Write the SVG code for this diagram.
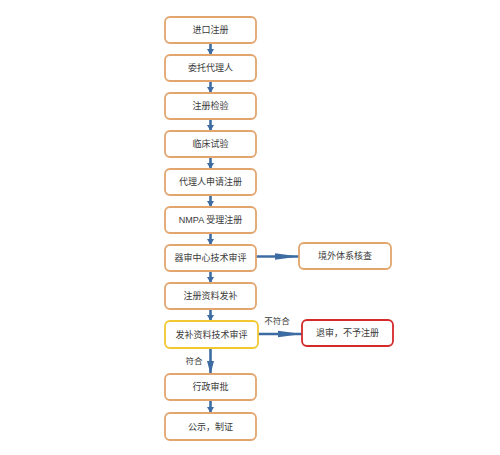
<svg xmlns="http://www.w3.org/2000/svg" width="500" height="455" viewBox="0 0 500 455">
<style>
.box{fill:#ffffff;stroke:#e2a56e;stroke-width:1.8}
.yel{fill:#ffffff;stroke:#f2c830;stroke-width:1.8}
.red{fill:#ffffff;stroke:#d42a2a;stroke-width:1.8}
.t{font-family:"Liberation Sans","Noto Sans CJK SC",sans-serif;font-size:9px;fill:#3a3a3a;text-anchor:middle;dominant-baseline:central}
.lbl{font-family:"Liberation Sans","Noto Sans CJK SC",sans-serif;font-size:8.5px;fill:#3a3a3a;text-anchor:middle;dominant-baseline:central}
.c{stroke:#3d6ca3;stroke-width:2.6;fill:none}
</style>
<defs>
<marker id="ah" markerUnits="userSpaceOnUse" markerWidth="8" markerHeight="8" refX="6" refY="4" orient="auto">
<path d="M0,0.5 L6,4 L0,7.5 Z" fill="#3d6ca3"/>
</marker>
<marker id="al" markerUnits="userSpaceOnUse" markerWidth="26" markerHeight="8" refX="24" refY="4" orient="auto">
<path d="M0,0.8 L24,4 L0,7.2 Z" fill="#3d6ca3"/>
</marker>
<marker id="am" markerUnits="userSpaceOnUse" markerWidth="14" markerHeight="8" refX="13" refY="4" orient="auto">
<path d="M0,0.5 L13,4 L0,7.5 Z" fill="#3d6ca3"/>
</marker>
</defs>
<rect width="500" height="455" fill="#ffffff"/>
<g id="connectors">
<line class="c" x1="210.5" y1="43" x2="210.5" y2="55" marker-end="url(#ah)"/>
<line class="c" x1="210.5" y1="81" x2="210.5" y2="93" marker-end="url(#ah)"/>
<line class="c" x1="210.5" y1="119" x2="210.5" y2="131" marker-end="url(#ah)"/>
<line class="c" x1="210.5" y1="157" x2="210.5" y2="169" marker-end="url(#ah)"/>
<line class="c" x1="210.5" y1="195" x2="210.5" y2="207" marker-end="url(#ah)"/>
<line class="c" x1="210.5" y1="233" x2="210.5" y2="245" marker-end="url(#ah)"/>
<line class="c" x1="210.5" y1="271" x2="210.5" y2="283" marker-end="url(#ah)"/>
<line class="c" x1="210.5" y1="309" x2="210.5" y2="321" marker-end="url(#ah)"/>
<line class="c" x1="210.5" y1="348" x2="210.5" y2="374" marker-end="url(#am)"/>
<line class="c" x1="210.5" y1="400" x2="210.5" y2="413" marker-end="url(#ah)"/>
<line class="c" x1="256" y1="256.5" x2="299" y2="256.5" marker-end="url(#al)"/>
<line class="c" x1="258" y1="334" x2="302" y2="334" marker-end="url(#al)"/>
<text class="lbl" x="277" y="321">不符合</text>
<text class="lbl" x="194" y="361">符合</text>
</g>
<g id="n1"><rect class="box" x="165" y="17" width="91" height="26" rx="5"/><text class="t" x="210.5" y="30">进口注册</text></g>
<g id="n2"><rect class="box" x="165" y="55" width="91" height="26" rx="5"/><text class="t" x="210.5" y="68">委托代理人</text></g>
<g id="n3"><rect class="box" x="165" y="93" width="91" height="26" rx="5"/><text class="t" x="210.5" y="106">注册检验</text></g>
<g id="n4"><rect class="box" x="165" y="131" width="91" height="26" rx="5"/><text class="t" x="210.5" y="144">临床试验</text></g>
<g id="n5"><rect class="box" x="165" y="169" width="91" height="26" rx="5"/><text class="t" x="210.5" y="182">代理人申请注册</text></g>
<g id="n6"><rect class="box" x="165" y="207" width="91" height="26" rx="5"/><text class="t" x="210.5" y="220">NMPA 受理注册</text></g>
<g id="n7"><rect class="box" x="165" y="245" width="91" height="26" rx="5"/><text class="t" x="210.5" y="258">器审中心技术审评</text></g>
<g id="n8"><rect class="box" x="165" y="283" width="91" height="26" rx="5"/><text class="t" x="210.5" y="296">注册资料发补</text></g>
<g id="n9"><rect class="yel" x="165" y="321" width="93" height="27" rx="5"/><text class="t" x="211.5" y="334.5">发补资料技术审评</text></g>
<g id="n10"><rect class="box" x="165" y="374" width="91" height="26" rx="5"/><text class="t" x="210.5" y="387">行政审批</text></g>
<g id="n11"><rect class="box" x="165" y="413" width="91" height="27" rx="5"/><text class="t" x="210.5" y="426.5">公示，制证</text></g>
<g id="n12"><rect class="box" x="299" y="243" width="92" height="26" rx="5"/><text class="t" x="345" y="256">境外体系核查</text></g>
<g id="n13"><rect class="red" x="302" y="320" width="91" height="26" rx="5"/><text class="t" x="347.5" y="333">退审，不予注册</text></g>
</svg>
